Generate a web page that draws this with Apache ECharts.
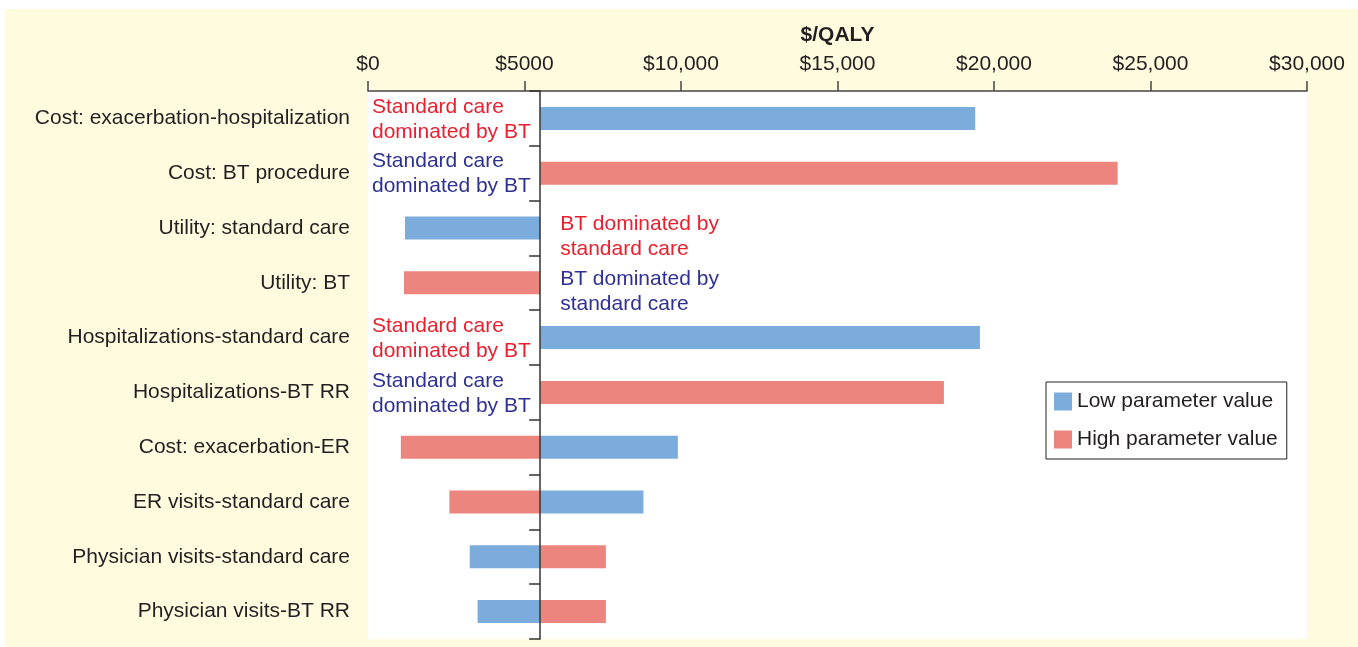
<!DOCTYPE html>
<html>
<head>
<meta charset="utf-8">
<script src="https://cdn.jsdelivr.net/npm/echarts@6/dist/echarts.min.js"></script>
<style>
  body { margin: 0; background: #ffffff; }
  /* yellow panel behind the chart */
  #chart {
    position: absolute;
    left: 5px;
    top: 9px;
    width: 1353px;
    height: 638px;
    background: #fefbdf;
  }
</style>
</head>
<body>
<div id="chart"></div>
<script>
// ---- data ----
const categories = [
  'Cost: exacerbation-hospitalization',
  'Cost: BT procedure',
  'Utility: standard care',
  'Utility: BT',
  'Hospitalizations-standard care',
  'Hospitalizations-BT RR',
  'Cost: exacerbation-ER',
  'ER visits-standard care',
  'Physician visits-standard care',
  'Physician visits-BT RR'
];
const baseValue = 5500;   // base case $/QALY
// end of bar for low / high parameter value (null = dominated, no bar)
const lowValues  = [19400, null, 1180, null, 19550, null, 9900, 8800, 3250, 3500];
const highValues = [null, 23950, null, 1150, null, 18400, 1050, 2600, 7600, 7600];
const tickValues = [0, 5000, 10000, 15000, 20000, 25000, 30000];
const tickLabels = ['$0', '$5000', '$10,000', '$15,000', '$20,000', '$25,000', '$30,000'];

// annotations for dominated cases
const noteRows   = [0, 1, 4, 5, 2, 3];
const noteTexts  = [
  'Standard care\ndominated by BT',
  'Standard care\ndominated by BT',
  'Standard care\ndominated by BT',
  'Standard care\ndominated by BT',
  'BT dominated by\nstandard care',
  'BT dominated by\nstandard care'
];
const noteColors = ['#e8202e', '#2e3192', '#e8202e', '#2e3192', '#e8202e', '#2e3192'];
const noteSide   = ['left', 'left', 'left', 'left', 'right', 'right'];

const BLUE = '#7bacdc';
const RED = '#ec857e';
const FONT = 'Liberation Sans, Arial, Helvetica, sans-serif';
const FS = 21;

const xMin = tickValues[0];
const xMax = tickValues[tickValues.length - 1];
const gridLeft = 363, gridTop = 82, gridWidth = 939, gridHeight = 548;

function startOf(v) { return v == null ? null : Math.min(v, baseValue); }
function lengthOf(v) { return v == null ? null : Math.abs(v - baseValue); }

const chart = echarts.init(document.getElementById('chart'));

const noteData = noteRows.map(function (r, i) {
  const left = noteSide[i] === 'left';
  return {
    value: [left ? xMin : baseValue, categories[r]],
    label: {
      color: noteColors[i],
      formatter: noteTexts[i],
      distance: left ? 4 : 20,
      offset: left ? [0, 1] : [0, 9]
    }
  };
});

const option = {
  animation: false,
  textStyle: { fontFamily: FONT },
  grid: {
    left: gridLeft, top: gridTop, width: gridWidth, height: gridHeight,
    show: true, backgroundColor: '#ffffff', borderWidth: 0
  },
  legend: {
    data: ['Low parameter value', 'High parameter value'],
    orient: 'vertical',
    left: 1041,
    top: 373,
    backgroundColor: '#ffffff',
    borderColor: '#222222',
    borderWidth: 1,
    borderRadius: 0,
    padding: [9, 9, 9, 8],
    itemGap: 17,
    itemWidth: 18,
    itemHeight: 18,
    icon: 'rect',
    textStyle: { fontSize: FS, color: '#231f20', fontFamily: FONT }
  },
  xAxis: {
    type: 'value',
    position: 'top',
    min: xMin,
    max: xMax,
    interval: 5000,
    name: '$/QALY',
    nameLocation: 'middle',
    nameGap: 45,
    nameTextStyle: { fontSize: FS, fontWeight: 'bold', color: '#231f20', fontFamily: FONT },
    axisLine: { show: true, lineStyle: { color: '#444444', width: 1.5 } },
    axisTick: { show: true, length: 10, lineStyle: { color: '#444444', width: 1.5 } },
    splitLine: { show: false },
    axisLabel: {
      fontSize: FS, color: '#231f20', margin: 16,
      formatter: function (v) { return tickLabels[tickValues.indexOf(v)]; }
    }
  },
  yAxis: [
    {
      type: 'category',
      inverse: true,
      data: categories,
      axisLine: { show: false },
      axisTick: { show: false },
      axisLabel: { fontSize: FS, color: '#231f20', margin: 18 }
    },
    {
      // base-case line with category ticks
      type: 'category',
      inverse: true,
      data: categories,
      position: 'left',
      offset: -(baseValue - xMin) / (xMax - xMin) * gridWidth,
      z: 5,
      axisLine: { show: true, lineStyle: { color: '#333333', width: 1.5 } },
      axisTick: { show: true, length: 11, lineStyle: { color: '#333333', width: 1.5 } },
      axisLabel: { show: false }
    }
  ],
  series: [
    {
      type: 'bar', stack: 'low', barWidth: 23, barGap: '-100%', silent: true,
      itemStyle: { color: 'transparent' },
      data: lowValues.map(startOf)
    },
    {
      name: 'Low parameter value',
      type: 'bar', stack: 'low', barWidth: 23, barGap: '-100%',
      itemStyle: { color: BLUE },
      data: lowValues.map(lengthOf)
    },
    {
      type: 'bar', stack: 'high', barWidth: 23, barGap: '-100%', silent: true,
      itemStyle: { color: 'transparent' },
      data: highValues.map(startOf)
    },
    {
      name: 'High parameter value',
      type: 'bar', stack: 'high', barWidth: 23, barGap: '-100%',
      itemStyle: { color: RED },
      data: highValues.map(lengthOf)
    },
    {
      type: 'scatter',
      symbolSize: 0,
      silent: true,
      z: 6,
      itemStyle: { opacity: 1 },
      label: {
        show: true,
        position: 'right',
        align: 'left',
        fontSize: FS,
        lineHeight: 25,
        opacity: 1,
        fontFamily: FONT
      },
      data: noteData
    }
  ]
};

chart.setOption(option);
window.addEventListener('resize', function () { chart.resize(); });
</script>
</body>
</html>
